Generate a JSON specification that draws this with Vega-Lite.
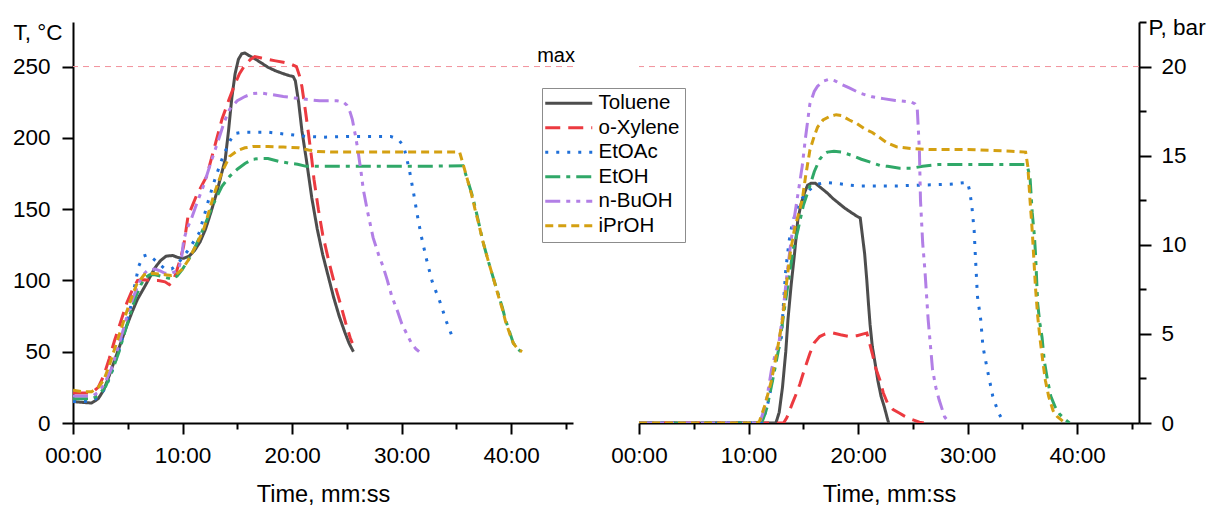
{
  "$schema": "https://vega.github.io/schema/vega-lite/v6.json",
  "padding": {"left": 12, "top": 11, "right": 0, "bottom": 0},
  "bounds": "flush",
  "spacing": 66,
  "background": "white",
  "config": {
    "font": "Liberation Sans",
    "view": {"stroke": null},
    "axis": {
      "domainColor": "black", "domainWidth": 2, "tickColor": "black", "tickWidth": 2,
      "labelColor": "black", "labelFontSize": 22.5, "labelFont": "Liberation Sans",
      "titleColor": "black", "titleFontSize": 22.5, "titleFont": "Liberation Sans", "titleFontWeight": "normal",
      "grid": false
    },
    "legend": {"labelFont": "Liberation Sans"}
  },
  "resolve": {
    "scale": {"color": "independent", "strokeDash": "independent"},
    "legend": {"color": "independent", "strokeDash": "independent"}
  },
  "datasets": {
    "limT": [{"lim": 250, "label": "max", "tx": 45.65}],
    "limP": [{"lim": 20}],
    "temp": [
      {"s":"Toluene","t":0,"v":15},{"s":"Toluene","t":0.8,"v":14.5},{"s":"Toluene","t":1.7,"v":14},{"s":"Toluene","t":2.3,"v":17},{"s":"Toluene","t":2.8,"v":23},{"s":"Toluene","t":3.3,"v":33},{"s":"Toluene","t":3.8,"v":44},{"s":"Toluene","t":4.4,"v":57},{"s":"Toluene","t":4.9,"v":68},{"s":"Toluene","t":5.4,"v":78},{"s":"Toluene","t":5.9,"v":87},{"s":"Toluene","t":6.5,"v":95},{"s":"Toluene","t":7.0,"v":102},{"s":"Toluene","t":7.5,"v":109},{"s":"Toluene","t":8.0,"v":114},{"s":"Toluene","t":8.5,"v":117},{"s":"Toluene","t":9.1,"v":117.5},{"s":"Toluene","t":9.6,"v":116},{"s":"Toluene","t":10.1,"v":115.5},{"s":"Toluene","t":10.6,"v":117},{"s":"Toluene","t":11.1,"v":121},{"s":"Toluene","t":11.6,"v":127},{"s":"Toluene","t":12.1,"v":136},{"s":"Toluene","t":12.6,"v":148},{"s":"Toluene","t":13.1,"v":161},{"s":"Toluene","t":13.6,"v":176},{"s":"Toluene","t":13.9,"v":185},{"s":"Toluene","t":14.2,"v":205},{"s":"Toluene","t":14.5,"v":228},{"s":"Toluene","t":14.8,"v":245},{"s":"Toluene","t":15.1,"v":255},{"s":"Toluene","t":15.4,"v":259},{"s":"Toluene","t":15.7,"v":259.5},{"s":"Toluene","t":16.0,"v":258},{"s":"Toluene","t":16.5,"v":256},{"s":"Toluene","t":17.2,"v":252.5},{"s":"Toluene","t":17.8,"v":249.5},{"s":"Toluene","t":18.5,"v":247},{"s":"Toluene","t":19.2,"v":245},{"s":"Toluene","t":19.8,"v":243.5},{"s":"Toluene","t":20.1,"v":243},{"s":"Toluene","t":20.3,"v":240},{"s":"Toluene","t":20.6,"v":225},{"s":"Toluene","t":20.9,"v":205},{"s":"Toluene","t":21.3,"v":185},{"s":"Toluene","t":21.8,"v":158},{"s":"Toluene","t":22.3,"v":136},{"s":"Toluene","t":22.8,"v":118},{"s":"Toluene","t":23.3,"v":103},{"s":"Toluene","t":23.8,"v":88},{"s":"Toluene","t":24.3,"v":75},{"s":"Toluene","t":24.8,"v":64},{"s":"Toluene","t":25.2,"v":56},{"s":"Toluene","t":25.6,"v":50},
      {"s":"o-Xylene","t":0,"v":21},{"s":"o-Xylene","t":0.8,"v":21},{"s":"o-Xylene","t":1.7,"v":21},{"s":"o-Xylene","t":2.3,"v":25},{"s":"o-Xylene","t":2.8,"v":33},{"s":"o-Xylene","t":3.3,"v":45},{"s":"o-Xylene","t":3.8,"v":58},{"s":"o-Xylene","t":4.4,"v":72},{"s":"o-Xylene","t":4.9,"v":84},{"s":"o-Xylene","t":5.4,"v":93},{"s":"o-Xylene","t":5.9,"v":100},{"s":"o-Xylene","t":6.5,"v":100.5},{"s":"o-Xylene","t":7.1,"v":100},{"s":"o-Xylene","t":7.8,"v":100},{"s":"o-Xylene","t":8.4,"v":99},{"s":"o-Xylene","t":8.8,"v":97},{"s":"o-Xylene","t":9.1,"v":99},{"s":"o-Xylene","t":9.4,"v":105},{"s":"o-Xylene","t":9.8,"v":115},{"s":"o-Xylene","t":10.1,"v":124},{"s":"o-Xylene","t":10.5,"v":145},{"s":"o-Xylene","t":11.3,"v":160},{"s":"o-Xylene","t":12.2,"v":173},{"s":"o-Xylene","t":12.9,"v":193},{"s":"o-Xylene","t":13.6,"v":213},{"s":"o-Xylene","t":14.2,"v":226},{"s":"o-Xylene","t":14.7,"v":236},{"s":"o-Xylene","t":15.2,"v":245},{"s":"o-Xylene","t":15.7,"v":251},{"s":"o-Xylene","t":16.2,"v":255},{"s":"o-Xylene","t":16.6,"v":257},{"s":"o-Xylene","t":17.2,"v":256},{"s":"o-Xylene","t":17.8,"v":255},{"s":"o-Xylene","t":18.5,"v":254},{"s":"o-Xylene","t":19.2,"v":253},{"s":"o-Xylene","t":19.8,"v":252},{"s":"o-Xylene","t":20.4,"v":250},{"s":"o-Xylene","t":20.7,"v":243},{"s":"o-Xylene","t":20.9,"v":236},{"s":"o-Xylene","t":21.2,"v":220},{"s":"o-Xylene","t":21.5,"v":203},{"s":"o-Xylene","t":21.8,"v":185},{"s":"o-Xylene","t":22.0,"v":171},{"s":"o-Xylene","t":22.4,"v":150},{"s":"o-Xylene","t":22.8,"v":132},{"s":"o-Xylene","t":23.4,"v":112},{"s":"o-Xylene","t":23.9,"v":97},{"s":"o-Xylene","t":24.4,"v":84},{"s":"o-Xylene","t":24.9,"v":70},{"s":"o-Xylene","t":25.3,"v":60},{"s":"o-Xylene","t":25.5,"v":56},
      {"s":"EtOAc","t":0,"v":15},{"s":"EtOAc","t":0.8,"v":15},{"s":"EtOAc","t":1.8,"v":15.5},{"s":"EtOAc","t":2.4,"v":19},{"s":"EtOAc","t":3.0,"v":25},{"s":"EtOAc","t":3.6,"v":37},{"s":"EtOAc","t":4.2,"v":51},{"s":"EtOAc","t":4.7,"v":65},{"s":"EtOAc","t":5.2,"v":79},{"s":"EtOAc","t":5.6,"v":95},{"s":"EtOAc","t":6.0,"v":110},{"s":"EtOAc","t":6.4,"v":117},{"s":"EtOAc","t":6.8,"v":118},{"s":"EtOAc","t":7.2,"v":116},{"s":"EtOAc","t":7.8,"v":112},{"s":"EtOAc","t":8.4,"v":108},{"s":"EtOAc","t":9.0,"v":108},{"s":"EtOAc","t":9.5,"v":111},{"s":"EtOAc","t":10.0,"v":116},{"s":"EtOAc","t":10.5,"v":121},{"s":"EtOAc","t":11.0,"v":127},{"s":"EtOAc","t":11.5,"v":133},{"s":"EtOAc","t":12.0,"v":146},{"s":"EtOAc","t":12.4,"v":157},{"s":"EtOAc","t":13.0,"v":172},{"s":"EtOAc","t":13.6,"v":185},{"s":"EtOAc","t":14.2,"v":196},{"s":"EtOAc","t":14.7,"v":203},{"s":"EtOAc","t":15.5,"v":204},{"s":"EtOAc","t":16.5,"v":204},{"s":"EtOAc","t":17.8,"v":204},{"s":"EtOAc","t":19.5,"v":202.5},{"s":"EtOAc","t":21.3,"v":201},{"s":"EtOAc","t":23,"v":200.5},{"s":"EtOAc","t":25,"v":201},{"s":"EtOAc","t":27,"v":201},{"s":"EtOAc","t":29.0,"v":201},{"s":"EtOAc","t":29.7,"v":199},{"s":"EtOAc","t":30.2,"v":194},{"s":"EtOAc","t":30.7,"v":178},{"s":"EtOAc","t":31.1,"v":161},{"s":"EtOAc","t":31.5,"v":143},{"s":"EtOAc","t":31.8,"v":131},{"s":"EtOAc","t":32.3,"v":114},{"s":"EtOAc","t":32.8,"v":99},{"s":"EtOAc","t":33.5,"v":85},{"s":"EtOAc","t":34.1,"v":71},{"s":"EtOAc","t":34.8,"v":57},
      {"s":"EtOH","t":0,"v":17},{"s":"EtOH","t":0.8,"v":17},{"s":"EtOH","t":1.8,"v":17},{"s":"EtOH","t":2.4,"v":20},{"s":"EtOH","t":3.0,"v":26},{"s":"EtOH","t":3.6,"v":37},{"s":"EtOH","t":4.2,"v":50},{"s":"EtOH","t":4.7,"v":63},{"s":"EtOH","t":5.2,"v":76},{"s":"EtOH","t":5.7,"v":88},{"s":"EtOH","t":6.2,"v":97},{"s":"EtOH","t":6.6,"v":102},{"s":"EtOH","t":7.0,"v":104},{"s":"EtOH","t":7.5,"v":104},{"s":"EtOH","t":8.0,"v":103},{"s":"EtOH","t":8.5,"v":102},{"s":"EtOH","t":9.0,"v":101},{"s":"EtOH","t":9.5,"v":103},{"s":"EtOH","t":10.0,"v":108},{"s":"EtOH","t":10.5,"v":114},{"s":"EtOH","t":11.0,"v":121},{"s":"EtOH","t":11.6,"v":131},{"s":"EtOH","t":12.2,"v":142},{"s":"EtOH","t":12.9,"v":155},{"s":"EtOH","t":13.6,"v":166},{"s":"EtOH","t":14.3,"v":173},{"s":"EtOH","t":15.0,"v":178},{"s":"EtOH","t":15.7,"v":182},{"s":"EtOH","t":16.4,"v":185},{"s":"EtOH","t":17.1,"v":185.5},{"s":"EtOH","t":17.8,"v":185.5},{"s":"EtOH","t":18.8,"v":183.5},{"s":"EtOH","t":19.9,"v":182},{"s":"EtOH","t":20.5,"v":181.5},{"s":"EtOH","t":21.3,"v":180},{"s":"EtOH","t":23,"v":180},{"s":"EtOH","t":26,"v":180},{"s":"EtOH","t":29,"v":180},{"s":"EtOH","t":32,"v":180},{"s":"EtOH","t":35.6,"v":180.5},{"s":"EtOH","t":36.0,"v":171},{"s":"EtOH","t":36.4,"v":161},{"s":"EtOH","t":36.7,"v":152},{"s":"EtOH","t":37.0,"v":142},{"s":"EtOH","t":37.4,"v":128},{"s":"EtOH","t":37.9,"v":114},{"s":"EtOH","t":38.4,"v":101},{"s":"EtOH","t":38.8,"v":91},{"s":"EtOH","t":39.2,"v":81},{"s":"EtOH","t":39.5,"v":72},{"s":"EtOH","t":39.9,"v":63},{"s":"EtOH","t":40.2,"v":56},{"s":"EtOH","t":40.6,"v":52},{"s":"EtOH","t":40.9,"v":50},
      {"s":"n-BuOH","t":0,"v":19},{"s":"n-BuOH","t":0.8,"v":19},{"s":"n-BuOH","t":1.8,"v":19},{"s":"n-BuOH","t":2.4,"v":22},{"s":"n-BuOH","t":2.9,"v":28},{"s":"n-BuOH","t":3.5,"v":38},{"s":"n-BuOH","t":4.0,"v":50},{"s":"n-BuOH","t":4.5,"v":63},{"s":"n-BuOH","t":5.0,"v":77},{"s":"n-BuOH","t":5.5,"v":88},{"s":"n-BuOH","t":6.0,"v":98},{"s":"n-BuOH","t":6.4,"v":104},{"s":"n-BuOH","t":6.8,"v":107},{"s":"n-BuOH","t":7.5,"v":108},{"s":"n-BuOH","t":8.0,"v":106.5},{"s":"n-BuOH","t":8.4,"v":105},{"s":"n-BuOH","t":9.0,"v":105},{"s":"n-BuOH","t":9.6,"v":107},{"s":"n-BuOH","t":9.9,"v":115},{"s":"n-BuOH","t":10.1,"v":128},{"s":"n-BuOH","t":10.4,"v":136},{"s":"n-BuOH","t":10.8,"v":143},{"s":"n-BuOH","t":11.3,"v":154},{"s":"n-BuOH","t":11.9,"v":166},{"s":"n-BuOH","t":12.6,"v":183},{"s":"n-BuOH","t":13.3,"v":199},{"s":"n-BuOH","t":13.8,"v":211},{"s":"n-BuOH","t":14.3,"v":220},{"s":"n-BuOH","t":15.0,"v":226},{"s":"n-BuOH","t":15.7,"v":229},{"s":"n-BuOH","t":16.4,"v":231},{"s":"n-BuOH","t":17.1,"v":231.5},{"s":"n-BuOH","t":18.0,"v":230.5},{"s":"n-BuOH","t":19.2,"v":229},{"s":"n-BuOH","t":20.2,"v":228},{"s":"n-BuOH","t":21.3,"v":227},{"s":"n-BuOH","t":22.5,"v":226},{"s":"n-BuOH","t":24.1,"v":226},{"s":"n-BuOH","t":24.7,"v":225},{"s":"n-BuOH","t":25.0,"v":223},{"s":"n-BuOH","t":25.3,"v":218},{"s":"n-BuOH","t":25.5,"v":213},{"s":"n-BuOH","t":25.8,"v":201},{"s":"n-BuOH","t":26.0,"v":192},{"s":"n-BuOH","t":26.3,"v":176},{"s":"n-BuOH","t":26.5,"v":164},{"s":"n-BuOH","t":26.9,"v":148},{"s":"n-BuOH","t":27.4,"v":130},{"s":"n-BuOH","t":27.9,"v":118},{"s":"n-BuOH","t":28.3,"v":110},{"s":"n-BuOH","t":28.7,"v":100},{"s":"n-BuOH","t":29.1,"v":89},{"s":"n-BuOH","t":29.6,"v":79},{"s":"n-BuOH","t":30.0,"v":70},{"s":"n-BuOH","t":30.5,"v":62},{"s":"n-BuOH","t":30.9,"v":56},{"s":"n-BuOH","t":31.3,"v":52},{"s":"n-BuOH","t":31.6,"v":50},
      {"s":"iPrOH","t":0,"v":23},{"s":"iPrOH","t":0.8,"v":22},{"s":"iPrOH","t":1.7,"v":22},{"s":"iPrOH","t":2.3,"v":25},{"s":"iPrOH","t":2.8,"v":30},{"s":"iPrOH","t":3.3,"v":40},{"s":"iPrOH","t":3.8,"v":52},{"s":"iPrOH","t":4.4,"v":66},{"s":"iPrOH","t":4.9,"v":78},{"s":"iPrOH","t":5.4,"v":89},{"s":"iPrOH","t":5.8,"v":97},{"s":"iPrOH","t":6.2,"v":101},{"s":"iPrOH","t":6.5,"v":104},{"s":"iPrOH","t":7.2,"v":105},{"s":"iPrOH","t":7.8,"v":104.5},{"s":"iPrOH","t":8.4,"v":104},{"s":"iPrOH","t":9.0,"v":103.5},{"s":"iPrOH","t":9.4,"v":104},{"s":"iPrOH","t":10.0,"v":108},{"s":"iPrOH","t":10.5,"v":114},{"s":"iPrOH","t":11.2,"v":124},{"s":"iPrOH","t":11.9,"v":135},{"s":"iPrOH","t":12.4,"v":148},{"s":"iPrOH","t":12.9,"v":161},{"s":"iPrOH","t":13.6,"v":176},{"s":"iPrOH","t":14.3,"v":187},{"s":"iPrOH","t":15.0,"v":191},{"s":"iPrOH","t":15.7,"v":193},{"s":"iPrOH","t":16.5,"v":194},{"s":"iPrOH","t":17.8,"v":194},{"s":"iPrOH","t":19.2,"v":193.5},{"s":"iPrOH","t":20.6,"v":193},{"s":"iPrOH","t":21.5,"v":191.5},{"s":"iPrOH","t":22.3,"v":190.5},{"s":"iPrOH","t":24,"v":190},{"s":"iPrOH","t":27,"v":190},{"s":"iPrOH","t":30,"v":190},{"s":"iPrOH","t":33,"v":190},{"s":"iPrOH","t":35.3,"v":190},{"s":"iPrOH","t":35.6,"v":182},{"s":"iPrOH","t":36.0,"v":171},{"s":"iPrOH","t":36.4,"v":160},{"s":"iPrOH","t":36.7,"v":150},{"s":"iPrOH","t":37.0,"v":141},{"s":"iPrOH","t":37.4,"v":128},{"s":"iPrOH","t":37.9,"v":114},{"s":"iPrOH","t":38.4,"v":101},{"s":"iPrOH","t":38.8,"v":90},{"s":"iPrOH","t":39.2,"v":80},{"s":"iPrOH","t":39.5,"v":71},{"s":"iPrOH","t":39.9,"v":62},{"s":"iPrOH","t":40.2,"v":56},{"s":"iPrOH","t":40.6,"v":52},{"s":"iPrOH","t":41.0,"v":50}
    ],
    "pres": [
      {"s":"Toluene","t":0,"v":0},{"s":"Toluene","t":12.5,"v":0},{"s":"Toluene","t":12.8,"v":0.6},{"s":"Toluene","t":13.1,"v":2.0},{"s":"Toluene","t":13.4,"v":4.0},{"s":"Toluene","t":13.6,"v":5.8},{"s":"Toluene","t":13.9,"v":7.8},{"s":"Toluene","t":14.2,"v":9.5},{"s":"Toluene","t":14.5,"v":11.4},{"s":"Toluene","t":14.8,"v":12.3},{"s":"Toluene","t":15.1,"v":12.9},{"s":"Toluene","t":15.4,"v":13.35},{"s":"Toluene","t":15.7,"v":13.45},{"s":"Toluene","t":16.1,"v":13.45},{"s":"Toluene","t":16.6,"v":13.2},{"s":"Toluene","t":17.2,"v":12.9},{"s":"Toluene","t":17.7,"v":12.6},{"s":"Toluene","t":18.3,"v":12.3},{"s":"Toluene","t":18.8,"v":12.05},{"s":"Toluene","t":19.4,"v":11.8},{"s":"Toluene","t":19.9,"v":11.6},{"s":"Toluene","t":20.2,"v":11.5},{"s":"Toluene","t":20.4,"v":10.5},{"s":"Toluene","t":20.6,"v":9.5},{"s":"Toluene","t":20.8,"v":8.0},{"s":"Toluene","t":20.95,"v":6.7},{"s":"Toluene","t":21.1,"v":5.5},{"s":"Toluene","t":21.3,"v":4.3},{"s":"Toluene","t":21.6,"v":3.2},{"s":"Toluene","t":21.8,"v":2.4},{"s":"Toluene","t":22.1,"v":1.5},{"s":"Toluene","t":22.4,"v":0.9},{"s":"Toluene","t":22.7,"v":0.2},{"s":"Toluene","t":22.8,"v":0},
      {"s":"o-Xylene","t":0,"v":0},{"s":"o-Xylene","t":13.2,"v":0},{"s":"o-Xylene","t":13.5,"v":0.3},{"s":"o-Xylene","t":14.0,"v":1.1},{"s":"o-Xylene","t":14.4,"v":1.7},{"s":"o-Xylene","t":14.7,"v":2.2},{"s":"o-Xylene","t":15.1,"v":3.0},{"s":"o-Xylene","t":15.6,"v":3.9},{"s":"o-Xylene","t":16.0,"v":4.5},{"s":"o-Xylene","t":16.5,"v":4.85},{"s":"o-Xylene","t":17.0,"v":5.0},{"s":"o-Xylene","t":17.7,"v":5.05},{"s":"o-Xylene","t":18.4,"v":4.95},{"s":"o-Xylene","t":19.2,"v":4.85},{"s":"o-Xylene","t":19.9,"v":4.9},{"s":"o-Xylene","t":20.5,"v":5.0},{"s":"o-Xylene","t":20.8,"v":5.05},{"s":"o-Xylene","t":21.0,"v":4.6},{"s":"o-Xylene","t":21.3,"v":3.9},{"s":"o-Xylene","t":21.6,"v":3.1},{"s":"o-Xylene","t":22.0,"v":2.4},{"s":"o-Xylene","t":22.3,"v":1.7},{"s":"o-Xylene","t":22.7,"v":1.1},{"s":"o-Xylene","t":23.2,"v":0.75},{"s":"o-Xylene","t":23.8,"v":0.55},{"s":"o-Xylene","t":24.2,"v":0.4},{"s":"o-Xylene","t":24.7,"v":0.25},{"s":"o-Xylene","t":25.6,"v":0.05},{"s":"o-Xylene","t":26,"v":0},
      {"s":"EtOAc","t":0,"v":0},{"s":"EtOAc","t":11.2,"v":0},{"s":"EtOAc","t":11.5,"v":0.5},{"s":"EtOAc","t":11.7,"v":0.9},{"s":"EtOAc","t":12.0,"v":1.8},{"s":"EtOAc","t":12.3,"v":2.9},{"s":"EtOAc","t":12.6,"v":3.8},{"s":"EtOAc","t":13.0,"v":4.8},{"s":"EtOAc","t":13.2,"v":6.8},{"s":"EtOAc","t":13.4,"v":8.6},{"s":"EtOAc","t":13.7,"v":10.2},{"s":"EtOAc","t":14.0,"v":11.2},{"s":"EtOAc","t":14.4,"v":12.0},{"s":"EtOAc","t":14.9,"v":12.6},{"s":"EtOAc","t":15.6,"v":13.1},{"s":"EtOAc","t":16.3,"v":13.4},{"s":"EtOAc","t":17.0,"v":13.5},{"s":"EtOAc","t":18.0,"v":13.45},{"s":"EtOAc","t":19.2,"v":13.35},{"s":"EtOAc","t":20.3,"v":13.3},{"s":"EtOAc","t":21.3,"v":13.3},{"s":"EtOAc","t":23.4,"v":13.3},{"s":"EtOAc","t":25.9,"v":13.35},{"s":"EtOAc","t":28.4,"v":13.4},{"s":"EtOAc","t":30.0,"v":13.5},{"s":"EtOAc","t":30.2,"v":13.0},{"s":"EtOAc","t":30.4,"v":12.1},{"s":"EtOAc","t":30.6,"v":10.8},{"s":"EtOAc","t":30.7,"v":9.5},{"s":"EtOAc","t":30.9,"v":7.1},{"s":"EtOAc","t":31.2,"v":5.8},{"s":"EtOAc","t":31.4,"v":4.3},{"s":"EtOAc","t":31.8,"v":3.0},{"s":"EtOAc","t":32.3,"v":1.5},{"s":"EtOAc","t":32.8,"v":0.6},{"s":"EtOAc","t":33.2,"v":0.15},{"s":"EtOAc","t":33.4,"v":0},
      {"s":"EtOH","t":0,"v":0},{"s":"EtOH","t":11.2,"v":0},{"s":"EtOH","t":11.5,"v":0.5},{"s":"EtOH","t":11.7,"v":0.9},{"s":"EtOH","t":12.2,"v":2.4},{"s":"EtOH","t":12.8,"v":4.3},{"s":"EtOH","t":13.3,"v":6.5},{"s":"EtOH","t":13.8,"v":8.6},{"s":"EtOH","t":14.1,"v":9.8},{"s":"EtOH","t":14.5,"v":10.8},{"s":"EtOH","t":15.0,"v":12.2},{"s":"EtOH","t":15.6,"v":13.3},{"s":"EtOH","t":16.0,"v":14.1},{"s":"EtOH","t":16.5,"v":14.8},{"s":"EtOH","t":16.9,"v":15.1},{"s":"EtOH","t":17.2,"v":15.2},{"s":"EtOH","t":17.8,"v":15.25},{"s":"EtOH","t":18.5,"v":15.2},{"s":"EtOH","t":19.5,"v":15.0},{"s":"EtOH","t":20.3,"v":14.8},{"s":"EtOH","t":21.3,"v":14.6},{"s":"EtOH","t":22.0,"v":14.45},{"s":"EtOH","t":22.7,"v":14.4},{"s":"EtOH","t":23.8,"v":14.3},{"s":"EtOH","t":24.9,"v":14.3},{"s":"EtOH","t":25.9,"v":14.4},{"s":"EtOH","t":27.3,"v":14.5},{"s":"EtOH","t":29,"v":14.5},{"s":"EtOH","t":31.9,"v":14.5},{"s":"EtOH","t":33.5,"v":14.5},{"s":"EtOH","t":35.3,"v":14.5},{"s":"EtOH","t":35.5,"v":14.3},{"s":"EtOH","t":35.7,"v":13.8},{"s":"EtOH","t":35.9,"v":11.8},{"s":"EtOH","t":36.1,"v":10.5},{"s":"EtOH","t":36.2,"v":9.5},{"s":"EtOH","t":36.4,"v":6.7},{"s":"EtOH","t":36.6,"v":5.6},{"s":"EtOH","t":36.8,"v":4.8},{"s":"EtOH","t":37.0,"v":3.5},{"s":"EtOH","t":37.3,"v":2.4},{"s":"EtOH","t":37.6,"v":1.5},{"s":"EtOH","t":38.0,"v":0.9},{"s":"EtOH","t":38.4,"v":0.5},{"s":"EtOH","t":38.9,"v":0.2},{"s":"EtOH","t":39.3,"v":0},
      {"s":"n-BuOH","t":0,"v":0},{"s":"n-BuOH","t":11.0,"v":0},{"s":"n-BuOH","t":11.3,"v":0.5},{"s":"n-BuOH","t":11.7,"v":1.5},{"s":"n-BuOH","t":12.1,"v":3.0},{"s":"n-BuOH","t":12.5,"v":4.0},{"s":"n-BuOH","t":12.8,"v":4.6},{"s":"n-BuOH","t":13.1,"v":6.0},{"s":"n-BuOH","t":13.5,"v":8.3},{"s":"n-BuOH","t":13.9,"v":10.3},{"s":"n-BuOH","t":14.2,"v":11.6},{"s":"n-BuOH","t":14.6,"v":13.2},{"s":"n-BuOH","t":14.9,"v":14.4},{"s":"n-BuOH","t":15.2,"v":16.0},{"s":"n-BuOH","t":15.6,"v":17.9},{"s":"n-BuOH","t":16.0,"v":18.6},{"s":"n-BuOH","t":16.3,"v":18.9},{"s":"n-BuOH","t":16.9,"v":19.2},{"s":"n-BuOH","t":17.4,"v":19.3},{"s":"n-BuOH","t":17.9,"v":19.2},{"s":"n-BuOH","t":18.5,"v":19.0},{"s":"n-BuOH","t":19.2,"v":18.8},{"s":"n-BuOH","t":20.2,"v":18.5},{"s":"n-BuOH","t":21.3,"v":18.3},{"s":"n-BuOH","t":22.3,"v":18.2},{"s":"n-BuOH","t":23.4,"v":18.1},{"s":"n-BuOH","t":24.2,"v":18.05},{"s":"n-BuOH","t":24.9,"v":18.0},{"s":"n-BuOH","t":25.2,"v":17.9},{"s":"n-BuOH","t":25.4,"v":17.7},{"s":"n-BuOH","t":25.5,"v":16.5},{"s":"n-BuOH","t":25.6,"v":15.3},{"s":"n-BuOH","t":25.7,"v":12.5},{"s":"n-BuOH","t":25.9,"v":10.1},{"s":"n-BuOH","t":26.1,"v":8.6},{"s":"n-BuOH","t":26.4,"v":5.8},{"s":"n-BuOH","t":26.8,"v":3.0},{"s":"n-BuOH","t":27.1,"v":2.0},{"s":"n-BuOH","t":27.4,"v":1.3},{"s":"n-BuOH","t":27.9,"v":0.35},{"s":"n-BuOH","t":28.2,"v":0.1},{"s":"n-BuOH","t":28.4,"v":0},
      {"s":"iPrOH","t":0,"v":0},{"s":"iPrOH","t":10.8,"v":0},{"s":"iPrOH","t":11.0,"v":0.1},{"s":"iPrOH","t":11.5,"v":1.0},{"s":"iPrOH","t":12.1,"v":2.4},{"s":"iPrOH","t":12.6,"v":4.0},{"s":"iPrOH","t":13.1,"v":5.8},{"s":"iPrOH","t":13.5,"v":8.0},{"s":"iPrOH","t":13.8,"v":9.5},{"s":"iPrOH","t":14.2,"v":10.9},{"s":"iPrOH","t":14.6,"v":11.8},{"s":"iPrOH","t":14.9,"v":12.5},{"s":"iPrOH","t":15.2,"v":13.8},{"s":"iPrOH","t":15.6,"v":15.3},{"s":"iPrOH","t":16.0,"v":16.1},{"s":"iPrOH","t":16.3,"v":16.6},{"s":"iPrOH","t":16.8,"v":17.0},{"s":"iPrOH","t":17.4,"v":17.2},{"s":"iPrOH","t":18.0,"v":17.3},{"s":"iPrOH","t":18.5,"v":17.25},{"s":"iPrOH","t":19.2,"v":17.0},{"s":"iPrOH","t":19.9,"v":16.8},{"s":"iPrOH","t":20.6,"v":16.5},{"s":"iPrOH","t":21.3,"v":16.3},{"s":"iPrOH","t":22.0,"v":16.0},{"s":"iPrOH","t":22.7,"v":15.7},{"s":"iPrOH","t":23.5,"v":15.5},{"s":"iPrOH","t":24.9,"v":15.4},{"s":"iPrOH","t":26.5,"v":15.35},{"s":"iPrOH","t":28.4,"v":15.35},{"s":"iPrOH","t":30,"v":15.35},{"s":"iPrOH","t":31.9,"v":15.3},{"s":"iPrOH","t":34,"v":15.25},{"s":"iPrOH","t":35.3,"v":15.2},{"s":"iPrOH","t":35.5,"v":14.4},{"s":"iPrOH","t":35.7,"v":12.5},{"s":"iPrOH","t":35.9,"v":10.8},{"s":"iPrOH","t":36.2,"v":7.6},{"s":"iPrOH","t":36.4,"v":6.0},{"s":"iPrOH","t":36.6,"v":4.8},{"s":"iPrOH","t":36.9,"v":3.3},{"s":"iPrOH","t":37.1,"v":2.4},{"s":"iPrOH","t":37.4,"v":1.5},{"s":"iPrOH","t":37.8,"v":0.7},{"s":"iPrOH","t":38.2,"v":0.35},{"s":"iPrOH","t":38.5,"v":0.2},{"s":"iPrOH","t":38.8,"v":0.05},{"s":"iPrOH","t":39,"v":0}
    ]
  },
  "hconcat": [
    {
      "width": 500, "height": 401,
      "layer": [
        {
          "data": {"name": "limT"},
          "mark": {"type": "rule", "color": "#f2919c", "strokeWidth": 1, "strokeDash": [6, 5]},
          "encoding": {"y": {"field": "lim", "type": "quantitative", "scale": {"domain": [0, 281.25], "nice": false}}}
        },
        {
          "data": {"name": "limT"},
          "mark": {"type": "text", "align": "right", "baseline": "alphabetic", "dy": -5, "dx": 2, "fontSize": 20, "color": "black"},
          "encoding": {
            "x": {"field": "tx", "type": "quantitative", "scale": {"domain": [0, 45.65], "nice": false}},
            "y": {"field": "lim", "type": "quantitative"},
            "text": {"field": "label"}
          }
        },
        {
          "data": {"name": "temp"},
          "mark": {"type": "line", "strokeWidth": 3, "clip": true},
          "encoding": {
            "x": {"field": "t", "type": "quantitative", "scale": {"domain": [0, 45.65], "nice": false},
              "axis": {"title": "Time, mm:ss", "values": [0,5,10,15,20,25,30,35,40,45],
                "tickSize": {"condition": {"test": "datum.value % 10 === 0", "value": 11}, "value": 6},
                "labelExpr": "datum.value % 10 === 0 ? (datum.value < 10 ? '0' : '') + datum.value + ':00' : ''",
                "labelPadding": 10, "titlePadding": 16, "titleFontSize": 23.5, "labelFlush": false, "labelOverlap": false}},
            "y": {"field": "v", "type": "quantitative", "scale": {"domain": [0, 281.25], "nice": false},
              "axis": {"title": "T, °C", "values": [0,25,50,75,100,125,150,175,200,225,250,275],
                "tickSize": {"condition": {"test": "datum.value % 50 === 0", "value": 11}, "value": 6},
                "labelExpr": "datum.value % 50 === 0 ? datum.label : ''",
                "labelPadding": 12, "labelOverlap": false,
                "titleAngle": 0, "titleAlign": "right", "titleBaseline": "middle", "titleX": -11, "titleY": 10}},
            "color": {"field": "s", "type": "nominal",
              "scale": {"domain": ["Toluene","o-Xylene","EtOAc","EtOH","n-BuOH","iPrOH"],
                "range": ["#4d4d4d","#ec3a40","#1f6fd8","#30a868","#b27fe6","#d4a012"]},
              "legend": {"title": null, "orient": "none", "legendX": 469, "legendY": 66,
                "strokeColor": "#8c8c8c", "fillColor": "white", "padding": 5, "labelFontSize": 20.5,
                "rowPadding": 3.5, "symbolType": "M-2.4,0H7.0", "symbolSize": 100, "symbolStrokeWidth": 3,
                "labelOffset": 31, "labelLimit": 300}},
            "strokeDash": {"field": "s", "type": "nominal",
              "scale": {"domain": ["Toluene","o-Xylene","EtOAc","EtOH","n-BuOH","iPrOH"],
                "range": [[1,0],[15,8],[3,8],[15,6,4,6],[15,6,4,6,4,6],[8,5]]},
              "legend": {"title": null, "orient": "none", "legendX": 469, "legendY": 66,
                "strokeColor": "#8c8c8c", "fillColor": "white", "padding": 5, "labelFontSize": 20.5,
                "rowPadding": 3.5, "symbolType": "M-2.4,0H7.0", "symbolSize": 100, "symbolStrokeWidth": 3,
                "labelOffset": 31, "labelLimit": 300}}
          }
        }
      ]
    },
    {
      "width": 500, "height": 401,
      "layer": [
        {
          "data": {"name": "limP"},
          "mark": {"type": "rule", "color": "#f2919c", "strokeWidth": 1, "strokeDash": [6, 5]},
          "encoding": {"y": {"field": "lim", "type": "quantitative", "scale": {"domain": [0, 22.5], "nice": false}}}
        },
        {
          "data": {"name": "pres"},
          "mark": {"type": "line", "strokeWidth": 3, "clip": true},
          "encoding": {
            "x": {"field": "t", "type": "quantitative", "scale": {"domain": [0, 45.65], "nice": false},
              "axis": {"title": "Time, mm:ss", "values": [0,5,10,15,20,25,30,35,40,45],
                "tickSize": {"condition": {"test": "datum.value % 10 === 0", "value": 11}, "value": 6},
                "labelExpr": "datum.value % 10 === 0 ? (datum.value < 10 ? '0' : '') + datum.value + ':00' : ''",
                "labelPadding": 10, "titlePadding": 16, "titleFontSize": 23.5, "labelFlush": false, "labelOverlap": false}},
            "y": {"field": "v", "type": "quantitative", "scale": {"domain": [0, 22.5], "nice": false},
              "axis": {"orient": "right", "title": "P, bar", "values": [0,2.5,5,7.5,10,12.5,15,17.5,20,22.5],
                "tickSize": {"condition": {"test": "datum.value % 5 === 0", "value": 12}, "value": 7},
                "labelExpr": "datum.value % 5 === 0 ? datum.label : ''",
                "labelPadding": 10, "labelOverlap": false,
                "titleAngle": 0, "titleAlign": "left", "titleBaseline": "middle", "titleX": 9, "titleY": 5}},
            "color": {"field": "s", "type": "nominal",
              "scale": {"domain": ["Toluene","o-Xylene","EtOAc","EtOH","n-BuOH","iPrOH"],
                "range": ["#4d4d4d","#ec3a40","#1f6fd8","#30a868","#b27fe6","#d4a012"]},
              "legend": null},
            "strokeDash": {"field": "s", "type": "nominal",
              "scale": {"domain": ["Toluene","o-Xylene","EtOAc","EtOH","n-BuOH","iPrOH"],
                "range": [[1,0],[15,8],[3,8],[15,6,4,6],[15,6,4,6,4,6],[8,5]]},
              "legend": null}
          }
        }
      ]
    }
  ]
}
